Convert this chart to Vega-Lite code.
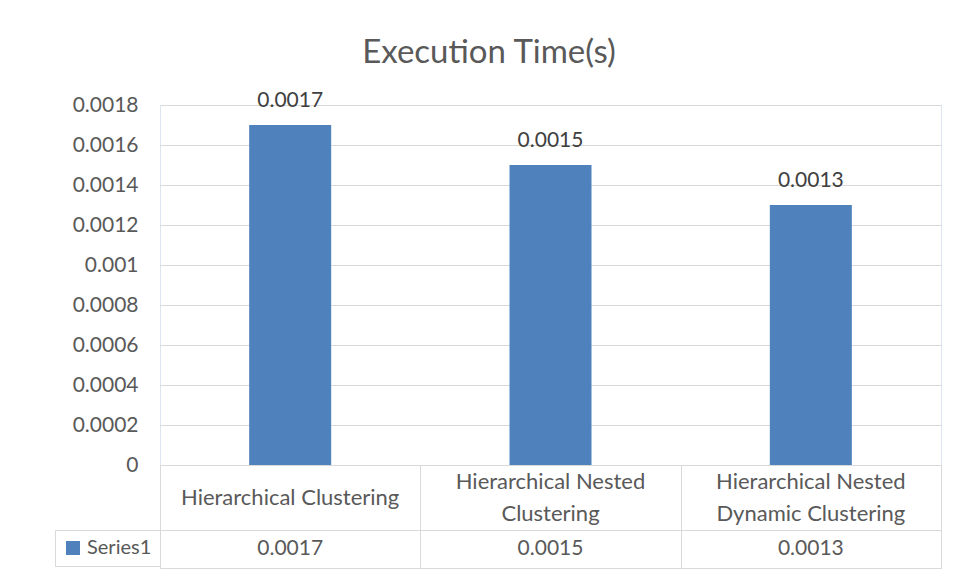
{
  "$schema": "https://vega.github.io/schema/vega-lite/v6.json",
  "background": "white",
  "padding": {"left": 54, "top": 36, "right": 10, "bottom": 10},
  "title": {"text": "Execution Time(s)", "fontSize": 33, "font": "Lato", "fontWeight": "normal", "color": "#595959", "anchor": "middle", "offset": 20, "dx": -9},
  "datasets": {
    "times": [
      {"method": "Hierarchical Clustering", "single": "Hierarchical Clustering", "line1": "", "line2": "", "time": 0.0017, "series": "Series1"},
      {"method": "Hierarchical Nested Clustering", "single": "", "line1": "Hierarchical Nested", "line2": "Clustering", "time": 0.0015, "series": "Series1"},
      {"method": "Hierarchical Nested Dynamic Clustering", "single": "", "line1": "Hierarchical Nested", "line2": "Dynamic Clustering", "time": 0.0013, "series": "Series1"}
    ]
  },
  "spacing": 0,
  "bounds": "flush",
  "config": {"view": {"stroke": "#d9d9d9"}, "axis": {"labelOverlap": false}},
  "vconcat": [
    {
      "width": 781,
      "height": 360,
      "view": {"stroke": "#dce6f2"},
      "data": {"name": "times"},
      "encoding": {
        "x": {
          "field": "method", "type": "nominal", "sort": null,
          "scale": {"paddingInner": 0, "paddingOuter": 0},
          "axis": null
        },
        "y": {
          "field": "time", "type": "quantitative",
          "scale": {"domain": [0, 0.0018], "nice": false},
          "axis": {
            "title": null, "values": [0, 0.0002, 0.0004, 0.0006, 0.0008, 0.001, 0.0012, 0.0014, 0.0016, 0.0018],
            "format": "~g", "domain": false, "ticks": false, "labelPadding": 22, "labelFontSize": 21,
            "labelFont": "Lato", "labelColor": "#595959", "labelOverlap": false, "grid": true, "gridColor": "#d9d9d9"
          }
        }
      },
      "layer": [
        {
          "mark": {"type": "bar", "color": "#4f81bd", "width": {"band": 0.315}}
        },
        {
          "mark": {"type": "text", "baseline": "alphabetic", "dy": -18, "fontSize": 21, "font": "Lato", "color": "#404040"},
          "encoding": {
            "text": {"field": "time", "type": "quantitative", "format": "~g"}
          }
        }
      ]
    },
    {
      "width": 781,
      "height": 65,
      "data": {"name": "times"},
      "encoding": {
        "x": {
          "field": "method", "type": "nominal", "sort": null,
          "scale": {"paddingInner": 0, "paddingOuter": 0},
          "axis": {"title": null, "grid": true, "tickBand": "extent", "gridColor": "#d9d9d9", "labels": false, "ticks": false, "domain": false}
        }
      },
      "layer": [
        {
          "mark": {"type": "text", "fontSize": 22, "font": "Lato", "baseline": "middle", "color": "#595959"},
          "encoding": {"text": {"field": "single", "type": "nominal"}}
        },
        {
          "mark": {"type": "text", "fontSize": 22, "font": "Lato", "baseline": "middle", "dy": -16, "color": "#595959"},
          "encoding": {"text": {"field": "line1", "type": "nominal"}}
        },
        {
          "mark": {"type": "text", "fontSize": 22, "font": "Lato", "baseline": "middle", "dy": 16, "color": "#595959"},
          "encoding": {"text": {"field": "line2", "type": "nominal"}}
        }
      ]
    },
    {
      "width": 781,
      "height": 38,
      "data": {"name": "times"},
      "encoding": {
        "x": {
          "field": "method", "type": "nominal", "sort": null,
          "scale": {"paddingInner": 0, "paddingOuter": 0},
          "axis": {"title": null, "grid": true, "tickBand": "extent", "gridColor": "#d9d9d9", "labels": false, "ticks": false, "domain": false}
        }
      },
      "layer": [
        {
          "mark": {"type": "text", "fontSize": 21, "font": "Lato", "baseline": "middle", "color": "#595959"},
          "encoding": {"text": {"field": "time", "type": "quantitative", "format": "~g"}}
        },
        {
          "mark": {"type": "point", "shape": "square", "filled": true, "size": 0},
          "encoding": {
            "color": {
              "field": "series", "type": "nominal",
              "scale": {"range": ["#4f81bd"]},
              "legend": {
                "title": null, "orient": "none", "legendX": -105, "legendY": 425, "padding": 8, "strokeColor": "#d9d9d9",
                "symbolType": "square", "symbolSize": 196, "symbolStrokeWidth": 0, "symbolOpacity": 1,
                "labelFontSize": 20, "labelFont": "Lato", "labelColor": "#595959", "labelOffset": 4
              }
            }
          }
        }
      ]
    }
  ]
}
